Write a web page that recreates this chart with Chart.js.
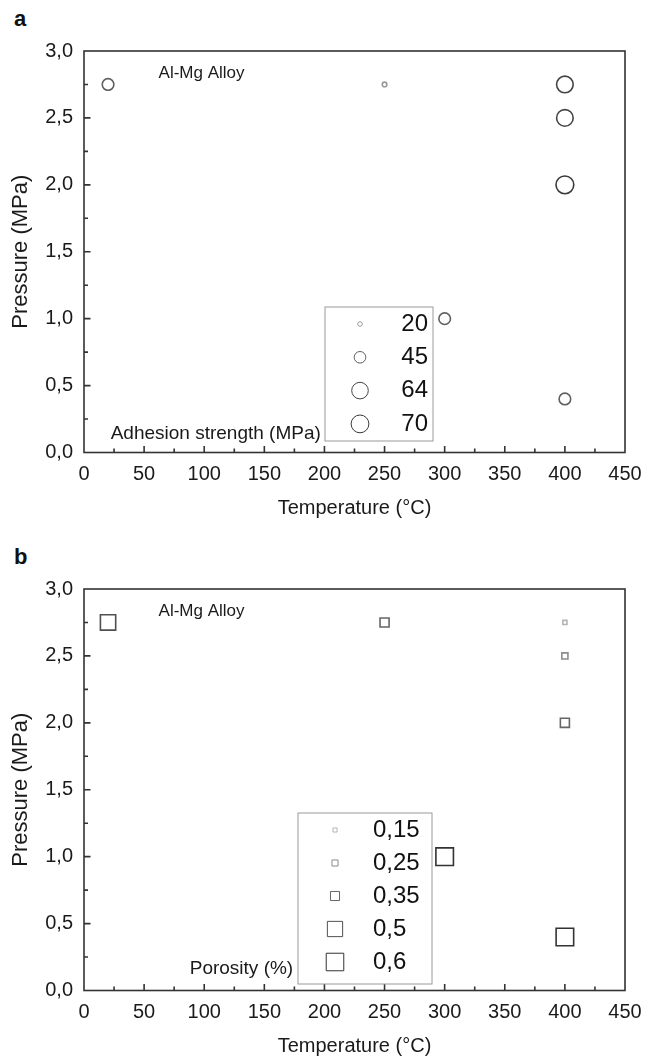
<!DOCTYPE html>
<html lang="en">
<head>
<meta charset="UTF-8" />
<title>Al-Mg Alloy: adhesion strength and porosity</title>
<script src="https://cdn.jsdelivr.net/npm/chart.js"></script>
<style>
  html, body { margin: 0; padding: 0; background: #fff; overflow: hidden; }
  .panel { position: absolute; left: 0; width: 646px; height: 530px; }
  #panelA { top: 0; }
  #panelB { top: 538px; }
  .letter { position: absolute; left: 14px; font: bold 22px "Liberation Sans", Arial, sans-serif; color: #111; }
</style>
</head>
<body>

  <div class="letter" style="top: 6px;">a</div>
  <div class="panel" id="panelA"><canvas id="chartA" width="646" height="530"></canvas></div>

  <div class="letter" style="top: 544px;">b</div>
  <div class="panel" id="panelB"><canvas id="chartB" width="646" height="530"></canvas></div>

<script>
  // spray conditions of every sample: temperature (°C) and pressure (MPa)
  const temperature = [20, 250, 300, 400, 400, 400, 400];
  const pressure    = [2.75, 2.75, 1.0, 2.75, 2.5, 2.0, 0.4];

  // adhesion strength (MPa) of each sample, and the legend classes
  const adhesion       = [45, 20, 45, 64, 64, 70, 45];
  const adhesionLevels = [20, 45, 64, 70];

  // porosity (%) of each sample, and the legend classes
  const porosity       = [0.5, 0.35, 0.6, 0.15, 0.25, 0.35, 0.6];
  const porosityLevels = [0.15, 0.25, 0.35, 0.5, 0.6];

  // axis ticks
  const xTickValues = [0, 50, 100, 150, 200, 250, 300, 350, 400, 450];
  const yTickValues = [0, 0.5, 1.0, 1.5, 2.0, 2.5, 3.0];

  const FONT = '"Liberation Sans", Arial, sans-serif';
  const INK = '#1a1a1a';

  // marker size/colour for each class
  const circleLook = {
    20: { r: 2.3, c: '#9a9a9a' },
    45: { r: 5.8, c: '#606060' },
    64: { r: 8.3, c: '#444' },
    70: { r: 8.9, c: '#3a3a3a' }
  };
  const squareLook = {
    0.15: { r: 2.9,  c: '#b4b4b4' },
    0.25: { r: 4.3,  c: '#8c8c8c' },
    0.35: { r: 6.4,  c: '#666' },
    0.5:  { r: 10.8, c: '#505050' },
    0.6:  { r: 12.4, c: '#333' }
  };

  const comma = v => String(v).replace('.', ',');

  function buildDatasets(values, levels, look, shape) {
    return levels.map(level => {
      const pts = [];
      values.forEach((v, i) => {
        if (v === level) pts.push({ x: temperature[i], y: pressure[i] });
      });
      return {
        label: comma(level),
        data: pts,
        showLine: false,
        clip: false,
        pointStyle: shape,
        pointRadius: look[level].r,
        pointHoverRadius: look[level].r,
        pointBorderColor: look[level].c,
        pointBackgroundColor: 'rgba(0,0,0,0)',
        pointBorderWidth: 1.6
      };
    });
  }

  // box around the plot plus inward major/minor ticks on the left and bottom
  const framePlugin = {
    id: 'frame',
    afterDatasetsDraw(chart) {
      const { ctx, chartArea: a, scales: { x, y } } = chart;
      ctx.save();
      ctx.strokeStyle = '#333';
      ctx.lineWidth = 1.6;
      ctx.strokeRect(a.left, a.top, a.right - a.left, a.bottom - a.top);
      ctx.beginPath();
      for (let v = 25; v < 450; v += 25) {
        const px = x.getPixelForValue(v);
        const len = v % 50 === 0 ? 6.5 : 4;
        ctx.moveTo(px, a.bottom);
        ctx.lineTo(px, a.bottom - len);
      }
      for (let i = 1; i < 12; i++) {
        const py = y.getPixelForValue(i * 0.25);
        const len = i % 2 === 0 ? 6.5 : 4;
        ctx.moveTo(a.left, py);
        ctx.lineTo(a.left + len, py);
      }
      ctx.stroke();
      ctx.restore();
    }
  };

  // free text placed in data units
  const notesPlugin = {
    id: 'notes',
    afterDatasetsDraw(chart, args, opts) {
      const { ctx, scales: { x, y } } = chart;
      ctx.save();
      ctx.fillStyle = INK;
      ctx.textBaseline = 'middle';
      (opts.items || []).forEach(n => {
        ctx.font = n.size + 'px ' + FONT;
        ctx.textAlign = n.align || 'left';
        ctx.fillText(n.text, x.getPixelForValue(n.x), y.getPixelForValue(n.y));
      });
      ctx.restore();
    }
  };

  // size legend drawn inside the plot, one row per dataset
  const sizeLegendPlugin = {
    id: 'sizeLegend',
    afterDatasetsDraw(chart, args, opts) {
      const { ctx } = chart;
      const [x0, y0, x1, y1] = opts.box;
      ctx.save();
      ctx.fillStyle = '#fff';
      ctx.fillRect(x0, y0, x1 - x0, y1 - y0);
      ctx.strokeStyle = '#9a9a9a';
      ctx.lineWidth = 1;
      ctx.strokeRect(x0, y0, x1 - x0, y1 - y0);
      chart.data.datasets.forEach((ds, i) => {
        const cy = opts.firstY + i * opts.rowGap;
        ctx.strokeStyle = ds.pointBorderColor;
        ctx.fillStyle = 'rgba(0,0,0,0)';
        Chart.helpers.drawPoint(ctx, {
          pointStyle: ds.pointStyle,
          radius: ds.pointRadius,
          borderWidth: ds.pointBorderWidth,
          rotation: 0
        }, opts.markerX, cy);
        ctx.fillStyle = '#111';
        ctx.font = opts.fontSize + 'px ' + FONT;
        ctx.textAlign = opts.textAlign;
        ctx.textBaseline = 'middle';
        ctx.fillText(ds.label, opts.textX, cy);
      });
      ctx.restore();
    }
  };

  function baseOptions(pluginOpts) {
    return {
      responsive: false,
      animation: false,
      events: [],
      layout: { padding: { top: 51, right: 21, left: 0, bottom: 0 } },
      plugins: Object.assign({
        legend: { display: false },
        tooltip: { enabled: false }
      }, pluginOpts),
      scales: {
        x: {
          type: 'linear',
          min: xTickValues[0],
          max: xTickValues[xTickValues.length - 1],
          grid: { display: false, drawTicks: false },
          border: { display: false },
          afterBuildTicks: s => { s.ticks = xTickValues.map(v => ({ value: v })); },
          ticks: { padding: 10, color: INK, font: { family: FONT, size: 20 } },
          title: {
            display: true, text: 'Temperature (°C)', color: INK,
            font: { family: FONT, size: 20 }, padding: { top: 0, bottom: 10 }
          },
          // fixed band height; the 450 label may hang past the frame
          afterFit: s => { s.height = 77.5; s.paddingLeft = 0; s.paddingRight = 0; }
        },
        y: {
          type: 'linear',
          min: yTickValues[0],
          max: yTickValues[yTickValues.length - 1],
          grid: { display: false, drawTicks: false },
          border: { display: false },
          afterBuildTicks: s => { s.ticks = yTickValues.map(v => ({ value: v })); },
          ticks: {
            padding: 11, color: INK, font: { family: FONT, size: 20 },
            callback: v => v.toFixed(1).replace('.', ',')
          },
          title: {
            display: true, text: 'Pressure (MPa)', color: INK,
            font: { family: FONT, size: 22 }, padding: { top: 8, bottom: 0 }
          },
          afterFit: s => { s.width = 84; }
        }
      }
    };
  }

  new Chart(document.getElementById('chartA'), {
    type: 'scatter',
    data: { datasets: buildDatasets(adhesion, adhesionLevels, circleLook, 'circle') },
    options: baseOptions({
      notes: {
        items: [
          { text: 'Al-Mg Alloy', x: 62, y: 2.83, size: 17 },
          { text: 'Adhesion strength (MPa)', x: 197, y: 0.14, size: 19, align: 'right' }
        ]
      },
      sizeLegend: {
        box: [325, 307, 433, 441],
        markerX: 360, textX: 428, textAlign: 'right',
        firstY: 324, rowGap: 33.3, fontSize: 24
      }
    }),
    plugins: [framePlugin, notesPlugin, sizeLegendPlugin]
  });

  new Chart(document.getElementById('chartB'), {
    type: 'scatter',
    data: { datasets: buildDatasets(porosity, porosityLevels, squareLook, 'rect') },
    options: baseOptions({
      notes: {
        items: [
          { text: 'Al-Mg Alloy', x: 62, y: 2.83, size: 17 },
          { text: 'Porosity (%)', x: 174, y: 0.16, size: 19, align: 'right' }
        ]
      },
      sizeLegend: {
        box: [298, 275, 432, 446],
        markerX: 335, textX: 373, textAlign: 'left',
        firstY: 292, rowGap: 33, fontSize: 24
      }
    }),
    plugins: [framePlugin, notesPlugin, sizeLegendPlugin]
  });
</script>
</body>
</html>
